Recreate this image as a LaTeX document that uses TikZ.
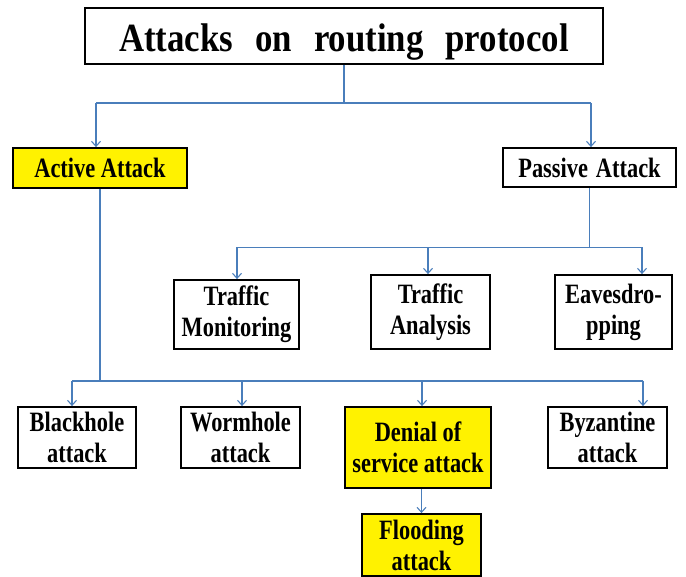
\documentclass[tikz,border=0pt]{standalone}
\usepackage{fontspec}
\newfontfamily\lbl{Liberation Serif}[FakeStretch=0.8]
\newfontfamily\headfont{Liberation Serif}[FakeStretch=0.87]
\usetikzlibrary{arrows.meta}
\definecolor{linkblue}{HTML}{4A7EBB}
\begin{document}
\begin{tikzpicture}[x=1pt,y=-1pt,
  box/.style={draw=black, line width=1.8pt, fill=white, inner sep=0pt, align=center,
    font=\lbl\bfseries\fontsize{28}{31}\selectfont},
  hl/.style={fill=yellow},
  link/.style={draw=linkblue, line width=1.1pt},
  arr/.style={link, -{Straight Barb[length=5pt,width=9pt]}}
]
\useasboundingbox (0,0) rectangle (686,577);

% boxes
\node[box, minimum width=518pt, minimum height=56pt, text height=32pt, text depth=0pt,
      font=\headfont\bfseries\fontsize{40}{44}\selectfont] (title) at (344,36)
      {Attacks\hspace{22pt}on\hspace{22pt}routing\hspace{22pt}protocol};
\node[box, hl, minimum width=174pt, minimum height=40pt] (active) at (100,168) {Active Attack};
\node[box, minimum width=173pt, minimum height=39pt] (passive) at (589.5,167.5) {Passive\hspace{8pt}Attack};

\node[box, minimum width=125pt, minimum height=69pt] (tm) at (236.5,314.5) {Traffic\\Monitoring};
\node[box, minimum width=119pt, minimum height=74pt] (ta) at (430.5,312) {Traffic\\Analysis};
\node[box, minimum width=117pt, minimum height=74pt] (ev) at (613.5,312) {Eavesdro-\\pping};

\node[box, minimum width=118pt, minimum height=61pt] (bh) at (77,437.5) {Blackhole\\attack};
\node[box, minimum width=119pt, minimum height=61pt] (wh) at (240.5,437.5) {Wormhole\\attack};
\node[box, hl, minimum width=146pt, minimum height=81pt] (dos) at (418,447.5) {Denial of\\service attack};
\node[box, minimum width=119pt, minimum height=61pt] (bz) at (607.5,437.5) {Byzantine\\attack};
\node[box, hl, minimum width=119pt, minimum height=62pt] (fl) at (421.5,545) {Flooding\\attack};

% junction points
\coordinate (ja) at (96,103);
\coordinate (jp) at (591,103);
\coordinate (p1) at (237,247.5);
\coordinate (p2) at (428,247.5);
\coordinate (p3) at (642,247.5);
\coordinate (b1) at (72,381);
\coordinate (b2) at (242,381);
\coordinate (b3) at (422,381);
\coordinate (b4) at (643,381);

% top level
\draw[link] (title.south) -- (title.south |- ja);
\draw[link] (ja) -- (jp);
\draw[arr] (ja) -- (ja |- active.north);
\draw[arr] (jp) -- (jp |- passive.north);

% passive branch
\draw[link] (passive.south) -- (passive.south |- p1);
\draw[link] (p1) -- (p3);
\draw[arr] (p1) -- (p1 |- tm.north);
\draw[arr] (p2) -- (p2 |- ta.north);
\draw[arr] (p3) -- (p3 |- ev.north);

% active branch
\draw[link] (active.south) -- (active.south |- b1);
\draw[link, line width=2pt] (b1) -- (b4);
\draw[arr] (b1) -- (b1 |- bh.north);
\draw[arr] (b2) -- (b2 |- wh.north);
\draw[arr] (b3) -- (b3 |- dos.north);
\draw[arr] (b4) -- (b4 |- bz.north);

% denial of service -> flooding
\draw[arr] (fl.north |- dos.south) -- (fl.north);
\end{tikzpicture}
\end{document}
